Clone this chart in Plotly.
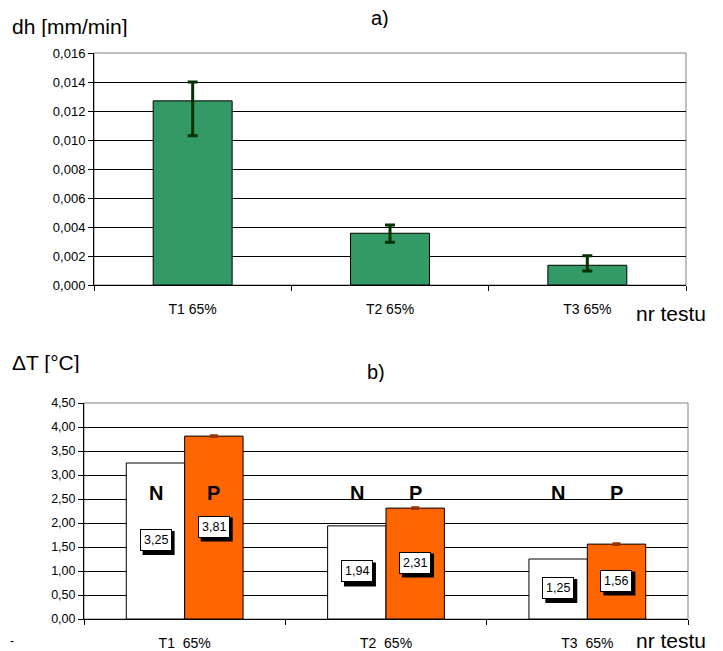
import plotly.graph_objs as go

# a) dh rate per test
tests_a = ["T1 65%", "T2 65%", "T3 65%"]
dh = [0.0127, 0.00357, 0.00136]
dh_err_plus = [0.0013, 0.00057, 0.00066]
dh_err_minus = [0.0024, 0.00063, 0.00039]

# b) delta T per test, N and P series
tests_b = ["T1\u00a0\u00a065%", "T2\u00a0\u00a065%", "T3\u00a0\u00a065%"]
dT_N = [3.25, 1.94, 1.25]
dT_P = [3.81, 2.31, 1.56]
dT_P_err = [0.01, 0.01, 0.01]
series_names = ["N", "P"]

FONT = "Liberation Sans, Arial, sans-serif"
OFF = 8  # page body margin
W, H = 723 - OFF, 651 - OFF

def px_x(p):
    return (p - OFF) / W

def px_y(p):
    return 1 - (p - OFF) / H

fig = go.Figure()

fig.add_trace(go.Bar(
    x=tests_a, y=dh, width=0.4,
    marker=dict(color="#339966", line=dict(color="black", width=1)),
    error_y=dict(type="data", symmetric=False, array=dh_err_plus, arrayminus=dh_err_minus,
                 color="#003300", thickness=3, width=5),
    xaxis="x", yaxis="y", showlegend=False,
))

fig.add_trace(go.Bar(
    x=tests_b, y=dT_N, name="N",
    marker=dict(color="white", line=dict(color="black", width=1)),
    xaxis="x2", yaxis="y2", showlegend=False,
))
fig.add_trace(go.Bar(
    x=tests_b, y=dT_P, name="P",
    marker=dict(color="#FF6600", line=dict(color="black", width=1)),
    error_y=dict(type="data", array=dT_P_err, color="#993300", thickness=3, width=4),
    xaxis="x2", yaxis="y2", showlegend=False,
))

shapes = [
    dict(type="rect", xref="x domain", yref="y domain", x0=0, x1=1, y0=0, y1=1,
         line=dict(color="#808080", width=1), layer="below"),
    dict(type="rect", xref="x2 domain", yref="y2 domain", x0=0, x1=1, y0=0, y1=1,
         line=dict(color="#808080", width=1), layer="below"),
]

annotations = []
half = 0.1443
for i in range(len(tests_b)):
    for j, vals in enumerate([dT_N, dT_P]):
        xi = i - half if j == 0 else i + half
        txt = f"{vals[i]:.2f}".replace(".", ",")
        # black drop shadow behind the value box
        shapes.append(dict(type="rect", xref="x2", yref="y2", xsizemode="pixel", ysizemode="pixel",
                           xanchor=xi, yanchor=vals[i] / 2, x0=-13, x1=19, y0=-14, y1=10,
                           fillcolor="black", line=dict(width=0), layer="above"))
        annotations.append(dict(x=xi, y=vals[i] / 2, xref="x2", yref="y2", text=txt,
                                showarrow=False, font=dict(family=FONT, size=12.5, color="black"),
                                bgcolor="white", bordercolor="black", borderwidth=1, borderpad=3,
                                yshift=1))
        annotations.append(dict(x=xi, y=2.63, xref="x2", yref="y2", text="<b>" + series_names[j] + "</b>",
                                showarrow=False, font=dict(family=FONT, size=20, color="black")))

texts = [
    ("dh [mm/min]", 10, 27, "left", 21),
    ("a)", 380, 18, "center", 20),
    ("nr testu", 671, 313, "center", 21),
    ("\u0394T [\u00b0C]", 10, 362, "left", 21),
    ("b)", 376, 372, "center", 20),
    ("nr testu", 671, 640, "center", 21),
    ("-", 8, 640, "left", 13),
]
for t, x, y, anchor, size in texts:
    annotations.append(dict(text=t, x=px_x(x), y=px_y(y), xref="paper", yref="paper",
                            xanchor=anchor, yanchor="middle", showarrow=False, height=size,
                            valign="middle", font=dict(family=FONT, size=size, color="black")))

xcommon = dict(type="category", showgrid=False, showline=True, linecolor="black", linewidth=1,
               ticks="outside", tickson="boundaries", ticklen=5, tickcolor="black",
               tickfont=dict(family=FONT, size=14, color="black"), ticklabelstandoff=11,
               automargin=False)
ycommon = dict(showgrid=True, gridcolor="black", gridwidth=1, showline=True, linecolor="black",
               zeroline=False, ticks="outside", ticklen=5, tickcolor="black", automargin=False)

fig.update_layout(
    width=W, height=H, autosize=False,
    margin=dict(l=0, r=0, t=0, b=0, pad=0),
    paper_bgcolor="white", plot_bgcolor="white",
    separators=",.",
    barmode="group", bargap=0.42, bargroupgap=0,
    xaxis=dict(domain=[px_x(94), px_x(686)], anchor="y", **xcommon),
    yaxis=dict(domain=[px_y(285), px_y(53)], anchor="x", range=[0, 0.016], dtick=0.002,
               tickformat=".3f", tickfont=dict(family=FONT, size=13, color="black"), **ycommon),
    xaxis2=dict(domain=[px_x(84), px_x(688)], anchor="y2", **xcommon),
    yaxis2=dict(domain=[px_y(619), px_y(403)], anchor="x2", range=[0, 4.5], dtick=0.5,
                tickformat=".2f", tickfont=dict(family=FONT, size=12.5, color="black"), **ycommon),
    annotations=annotations,
    shapes=shapes,
)

fig.write_html("out.html")
